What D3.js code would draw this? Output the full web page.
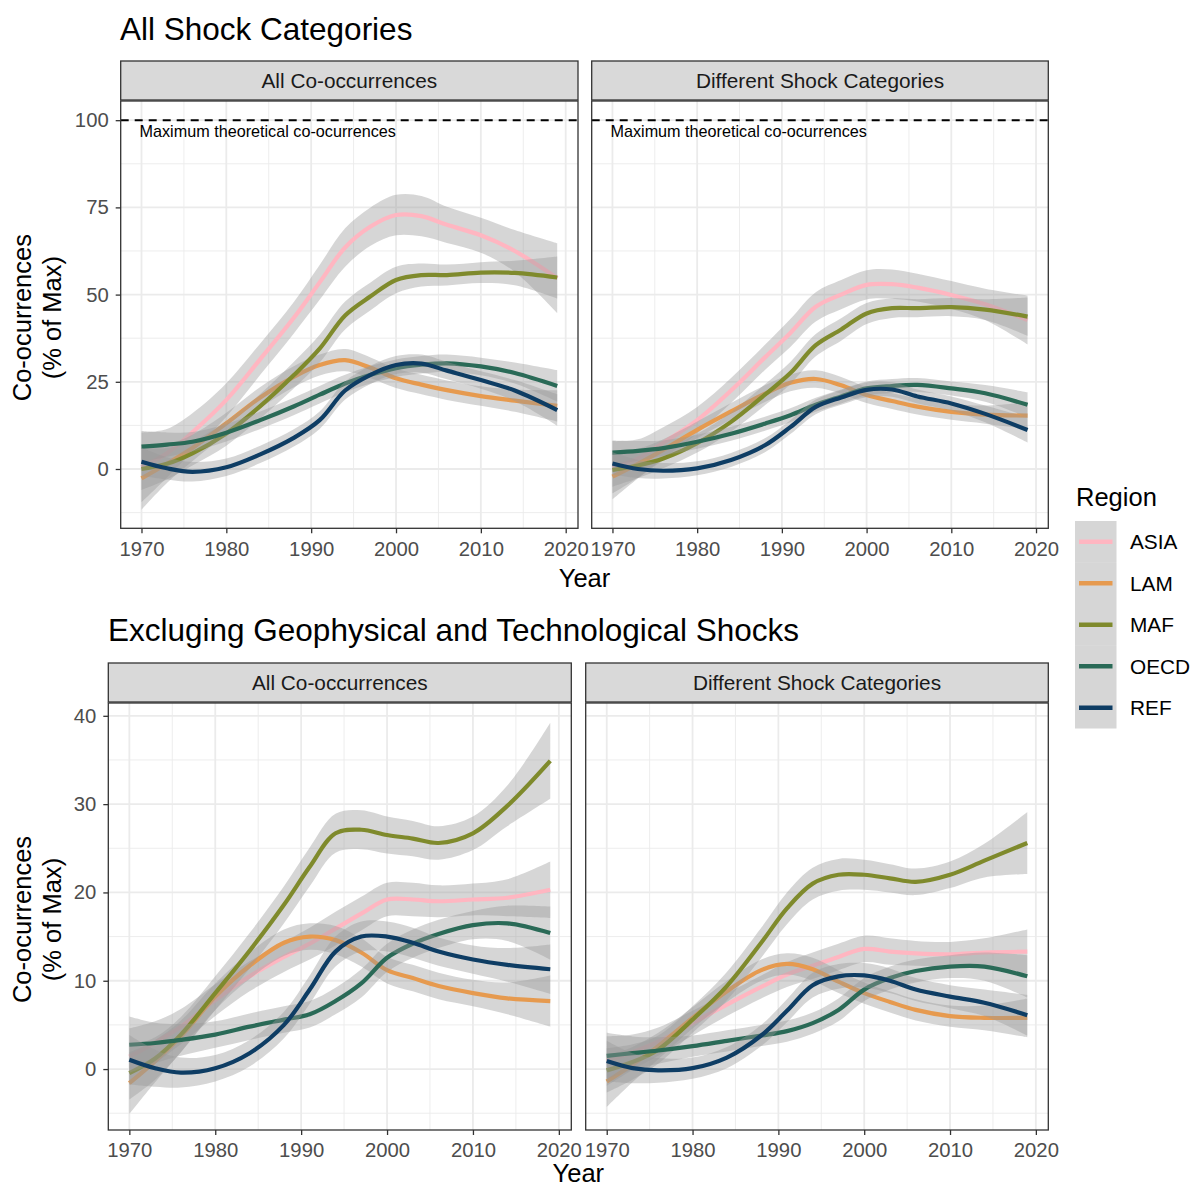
<!DOCTYPE html>
<html>
<head>
<meta charset="utf-8">
<script src="https://cdn.jsdelivr.net/npm/d3@7"></script>
<style>
  body { margin: 0; background: #fff; overflow: hidden; }
  svg { display: block; font-family: "Liberation Sans", Arial, sans-serif; }
</style>
</head>
<body>
<svg id="chart" width="1193" height="1189"></svg>
<script>
// smoothed fits
const years = [1970, 1973, 1976, 1980, 1984, 1988, 1991, 1994, 1997, 2000, 2003, 2006, 2010, 2014, 2019];
const regions = ['ASIA', 'LAM', 'MAF', 'OECD', 'REF'];
const regionColors = ['#FFB6C1', '#E69A4F', '#7F8A2C', '#2A6A57', '#0E3D64'];

const allAll = {
    ASIA: [0.5, 4.5, 10.5, 19.8, 31.5, 43.5, 53.5, 63.5, 69.5, 72.8, 72.5, 70, 67, 62.5, 54.7],
    LAM: [-2.7, 1.5, 6, 13.1, 20.5, 26.5, 29.8, 31.2, 29, 26, 24.2, 22.6, 20.9, 19.6, 18.1],
    MAF: [0, 1.5, 4.5, 10.2, 18, 27, 34.5, 44, 49.5, 54.2, 55.6, 55.6, 56.3, 56.2, 54.9],
    OECD: [6.4, 7, 7.8, 10.4, 14, 18, 21.3, 24.5, 27, 28.9, 29.9, 30.3, 29.4, 27.5, 23.8],
    REF: [2.1, 0.2, -0.8, 0.5, 4.2, 9, 14, 22.5, 27, 29.8, 30.2, 28.2, 25.5, 22.5, 16.9]
};
const allAllSe = {
    ASIA: [10, 7, 5.5, 4.8, 4.5, 4.5, 5, 5.5, 5.5, 5.8, 5.8, 5.2, 5, 6, 10],
    LAM: [9, 5.5, 3.8, 3, 3, 3, 3, 3.2, 3, 2.8, 2.8, 2.8, 2.8, 3.2, 4.5],
    MAF: [6, 4.5, 3.5, 3.5, 3.5, 3.8, 4, 4, 4, 3.8, 3.3, 3, 3, 3.5, 6],
    OECD: [4.5, 3.5, 2.8, 2.5, 2.5, 2.5, 2.5, 2.5, 2.5, 2.5, 2.5, 2.5, 2.5, 3, 4.5],
    REF: [4, 3.2, 2.8, 2.5, 2.5, 2.5, 2.5, 2.6, 2.6, 2.6, 2.6, 2.5, 2.5, 3, 4.5]
};

const allDiff = {
    ASIA: [0.5, 3, 7.5, 14, 22.5, 32, 39, 46.5, 50, 52.8, 53, 52, 49.9, 47.2, 42.7],
    LAM: [-2.2, 1.5, 5.5, 11.2, 16.5, 21.6, 24.7, 25.8, 24, 21.2, 19.5, 17.9, 16.4, 15.6, 15.3],
    MAF: [-0.3, 1, 3, 7.4, 13.5, 21.3, 27.5, 35.5, 40, 44.6, 46.1, 46.1, 46.4, 45.7, 43.7],
    OECD: [4.7, 5.2, 6, 7.8, 10.1, 13, 15.4, 18.4, 20.8, 23.1, 23.8, 24.1, 23.1, 21.7, 18.4],
    REF: [1.6, 0, -0.5, 0.2, 2.6, 6.8, 12, 17.8, 20.5, 22.7, 22.8, 20.8, 18.8, 15.8, 11.2]
};
const allDiffSe = {
    ASIA: [7.5, 5.5, 4.5, 3.8, 3.6, 3.6, 4, 4.2, 4.2, 4.2, 4.2, 4, 4, 4.5, 7],
    LAM: [6.5, 4.2, 3, 2.4, 2.4, 2.4, 2.4, 2.5, 2.4, 2.3, 2.3, 2.3, 2.3, 2.6, 3.8],
    MAF: [4.8, 3.6, 2.8, 2.7, 2.8, 3, 3.2, 3.2, 3.2, 3, 2.8, 2.6, 2.6, 3, 5.5],
    OECD: [3.5, 2.8, 2.2, 2, 2, 2, 2, 2, 2, 2, 2, 2, 2, 2.4, 3.6],
    REF: [3.2, 2.6, 2.2, 2, 2, 2, 2, 2.1, 2.1, 2.1, 2.1, 2, 2, 2.4, 3.6]
};

const exclAll = {
    ASIA: [1.4, 3, 4.8, 7.8, 10.5, 12.7, 14.2, 15.9, 17.6, 19.2, 19.2, 19, 19.2, 19.4, 20.3],
    LAM: [-1.6, 0.9, 3.7, 8.2, 11.7, 14.3, 15, 14.6, 13.2, 11.2, 10.3, 9.4, 8.6, 8, 7.7],
    MAF: [-0.45, 1.2, 3.9, 8.6, 13.4, 18.6, 22.9, 26.7, 27.1, 26.5, 26.1, 25.6, 26.7, 29.8, 34.9],
    OECD: [2.75, 2.95, 3.3, 3.9, 4.8, 5.6, 6.2, 7.7, 9.7, 12.6, 14.2, 15.3, 16.3, 16.5, 15.4],
    REF: [1.06, 0.1, -0.4, 0.1, 1.8, 5, 9, 13.3, 15, 15, 14.3, 13.3, 12.4, 11.8, 11.3]
};
const exclAllSe = {
    ASIA: [3.2, 2.4, 2, 1.8, 1.7, 1.7, 1.8, 1.9, 1.9, 1.9, 1.9, 1.8, 1.8, 2.1, 3.2],
    LAM: [3.5, 2.4, 1.8, 1.5, 1.5, 1.5, 1.5, 1.6, 1.6, 1.5, 1.5, 1.5, 1.5, 1.8, 2.9],
    MAF: [3, 2.4, 2, 1.9, 2, 2.1, 2.2, 2.2, 2.2, 2.1, 2, 1.9, 1.9, 2.3, 4.3],
    OECD: [3.2, 2.3, 1.8, 1.5, 1.5, 1.5, 1.5, 1.5, 1.6, 1.6, 1.6, 1.6, 1.6, 2, 3],
    REF: [2.8, 2.1, 1.7, 1.5, 1.5, 1.5, 1.6, 1.7, 1.7, 1.7, 1.7, 1.6, 1.6, 1.9, 2.8]
};

const exclDiff = {
    ASIA: [0.9, 1.9, 3.1, 5.2, 7.3, 9.3, 10.7, 11.7, 12.7, 13.6, 13.3, 13.1, 13, 13.2, 13.3],
    LAM: [-1.4, 0.5, 2.6, 5.8, 8.8, 11.2, 11.9, 11.3, 9.9, 8.6, 7.6, 6.7, 6, 5.8, 5.8],
    MAF: [-0.15, 0.8, 2.2, 5.6, 9.4, 14.3, 18.2, 21, 22, 22, 21.6, 21.2, 22, 23.6, 25.6],
    OECD: [1.5, 1.8, 2.1, 2.6, 3.2, 3.8, 4.3, 5.2, 6.7, 9, 10.3, 11.1, 11.6, 11.6, 10.5],
    REF: [0.9, 0.1, -0.15, 0.1, 1.3, 3.8, 6.6, 9.5, 10.5, 10.6, 10, 9, 8.2, 7.5, 6.1]
};
const exclDiffSe = {
    ASIA: [2.8, 2, 1.6, 1.4, 1.3, 1.3, 1.4, 1.5, 1.5, 1.5, 1.5, 1.4, 1.4, 1.6, 2.5],
    LAM: [2.9, 2, 1.5, 1.2, 1.2, 1.2, 1.2, 1.3, 1.3, 1.2, 1.2, 1.2, 1.2, 1.4, 2.2],
    MAF: [2.5, 2, 1.6, 1.5, 1.6, 1.7, 1.8, 1.8, 1.8, 1.7, 1.6, 1.5, 1.5, 1.9, 3.5],
    OECD: [2.6, 1.9, 1.5, 1.2, 1.2, 1.2, 1.2, 1.2, 1.3, 1.3, 1.3, 1.3, 1.3, 1.6, 2.4],
    REF: [2.3, 1.7, 1.4, 1.2, 1.2, 1.2, 1.3, 1.4, 1.4, 1.4, 1.4, 1.3, 1.3, 1.5, 2.3]
};

const xTicks = [1970, 1980, 1990, 2000, 2010, 2020];
const xMinor = [1975, 1985, 1995, 2005, 2015];
const topTicks = [0, 25, 50, 75, 100];
const topMinor = [-12.5, 12.5, 37.5, 62.5, 87.5];
const bottomTicks = [0, 10, 20, 30, 40];
const bottomMinor = [-5, 5, 15, 25, 35];
const maxLine = 100;
const maxLabel = 'Maximum theoretical co-ocurrences';

const svg = d3.select('#chart');
const dark = '#333333';
const tickGrey = '#4D4D4D';
const fontFamily = '"Liberation Sans", Arial, sans-serif';

const color = d3.scaleOrdinal().domain(regions).range(regionColors);

function drawPanel(cfg) {
    const x = d3.scaleLinear().domain([1967.55, 2021.45]).range([cfg.left, cfg.right]);
    const y = d3.scaleLinear().domain(cfg.yDomain).range([cfg.bottom, cfg.top]);
    const g = svg.append('g');

    // grid
    g.selectAll('line.minor-y').data(cfg.yMinor).join('line')
        .attr('x1', cfg.left).attr('x2', cfg.right)
        .attr('y1', d => y(d)).attr('y2', d => y(d))
        .attr('stroke', '#EBEBEB').attr('stroke-width', 0.9);
    g.selectAll('line.minor-x').data(xMinor).join('line')
        .attr('y1', cfg.top).attr('y2', cfg.bottom)
        .attr('x1', d => x(d)).attr('x2', d => x(d))
        .attr('stroke', '#EBEBEB').attr('stroke-width', 0.9);
    g.selectAll('line.major-y').data(cfg.yTicks).join('line')
        .attr('x1', cfg.left).attr('x2', cfg.right)
        .attr('y1', d => y(d)).attr('y2', d => y(d))
        .attr('stroke', '#EBEBEB').attr('stroke-width', 1.8);
    g.selectAll('line.major-x').data(xTicks).join('line')
        .attr('y1', cfg.top).attr('y2', cfg.bottom)
        .attr('x1', d => x(d)).attr('x2', d => x(d))
        .attr('stroke', '#EBEBEB').attr('stroke-width', 1.8);

    // max line + label
    if (cfg.showMax) {
        g.append('line')
            .attr('x1', cfg.left).attr('x2', cfg.right)
            .attr('y1', y(maxLine)).attr('y2', y(maxLine))
            .attr('stroke', '#000').attr('stroke-width', 2)
            .attr('stroke-dasharray', '8,6');
        g.append('text')
            .attr('x', x(1970) - 2).attr('y', y(96.8))
            .attr('dy', '0.35em')
            .attr('font-size', 16.2).attr('fill', '#000')
            .text(maxLabel);
    }

    const area = d3.area()
        .x((d, i) => x(years[i]))
        .y0(d => y(d[0] - d[1]))
        .y1(d => y(d[0] + d[1]))
        .curve(d3.curveCatmullRom.alpha(0.5));
    const line = d3.line()
        .x((d, i) => x(years[i]))
        .y(d => y(d))
        .curve(d3.curveCatmullRom.alpha(0.5));

    regions.forEach(r => {
        const vals = cfg.data[r];
        const se = cfg.se[r];
        g.append('path')
            .datum(vals.map((v, i) => [v, se[i]]))
            .attr('d', area)
            .attr('fill', '#999999')
            .attr('fill-opacity', 0.4);
        g.append('path')
            .datum(vals)
            .attr('d', line)
            .attr('fill', 'none')
            .attr('stroke', color(r))
            .attr('stroke-width', 4.2);
    });

    // border
    g.append('rect')
        .attr('x', cfg.left).attr('y', cfg.top)
        .attr('width', cfg.right - cfg.left).attr('height', cfg.bottom - cfg.top)
        .attr('fill', 'none').attr('stroke', dark).attr('stroke-width', 1.3);

    // strip
    g.append('rect')
        .attr('x', cfg.left).attr('y', cfg.top - 40)
        .attr('width', cfg.right - cfg.left).attr('height', 39)
        .attr('fill', '#D9D9D9').attr('stroke', dark).attr('stroke-width', 1.3);
    g.append('text')
        .attr('x', (cfg.left + cfg.right) / 2).attr('y', cfg.top - 20)
        .attr('dy', '0.35em').attr('text-anchor', 'middle')
        .attr('font-size', 20.8).attr('fill', '#1A1A1A')
        .text(cfg.strip);

    // x axis
    const xAxis = g.append('g')
        .attr('transform', `translate(0,${cfg.bottom})`)
        .call(d3.axisBottom(x).tickValues(xTicks).tickFormat(d3.format('d')).tickSize(5).tickPadding(8));
    xAxis.select('.domain').remove();
    xAxis.selectAll('line').attr('stroke', dark).attr('stroke-width', 1.3);
    xAxis.selectAll('text').attr('font-size', 20.3).attr('fill', tickGrey)
        .attr('font-family', fontFamily);

    if (cfg.yAxis) {
        const yAxis = g.append('g')
            .attr('transform', `translate(${cfg.left},0)`)
            .call(d3.axisLeft(y).tickValues(cfg.yTicks).tickSize(5).tickPadding(7));
        yAxis.select('.domain').remove();
        yAxis.selectAll('line').attr('stroke', dark).attr('stroke-width', 1.3);
        yAxis.selectAll('text').attr('font-size', 20.3).attr('fill', tickGrey)
            .attr('font-family', fontFamily);
    }
}

function drawRow(row) {
    svg.append('text')
        .attr('x', row.titleX).attr('y', row.titleY)
        .attr('font-size', 31.5).attr('fill', '#000')
        .text(row.title);

    row.panels.forEach((p, i) => drawPanel({
        left: p[0], right: p[1], top: row.top, bottom: row.bottom,
        yDomain: row.yDomain, yTicks: row.yTicks, yMinor: row.yMinor,
        data: row.data[i], se: row.se[i], strip: row.strips[i],
        showMax: row.showMax, yAxis: i === 0
    }));

    svg.append('text')
        .attr('x', (row.panels[0][0] + row.panels[1][1]) / 2).attr('y', row.yearY)
        .attr('dy', '0.35em').attr('text-anchor', 'middle')
        .attr('font-size', 25.5).attr('fill', '#000')
        .text('Year');

    const cy = (row.top + row.bottom) / 2 + 3;
    const yt = svg.append('text')
        .attr('transform', `translate(22,${cy}) rotate(-90)`)
        .attr('text-anchor', 'middle')
        .attr('font-size', 25.5).attr('fill', '#000');
    yt.append('tspan').attr('x', 0).attr('dy', '0.35em').text('Co-ocurrences');
    yt.append('tspan').attr('x', 0).attr('dy', 30).text('(% of Max)');
}

const strips = ['All Co-occurrences', 'Different Shock Categories'];

drawRow({
    title: 'All Shock Categories', titleX: 120, titleY: 40,
    top: 101, bottom: 528.3, yearY: 578,
    panels: [[120.7, 578], [591.7, 1048.3]],
    yDomain: [-17, 105.5], yTicks: topTicks, yMinor: topMinor,
    data: [allAll, allDiff], se: [allAllSe, allDiffSe],
    strips: strips, showMax: true
});

drawRow({
    title: 'Excluging Geophysical and Technological Shocks', titleX: 108, titleY: 641,
    top: 703, bottom: 1130, yearY: 1173,
    panels: [[108.3, 571.3], [585.7, 1048.3]],
    yDomain: [-6.9, 41.45], yTicks: bottomTicks, yMinor: bottomMinor,
    data: [exclAll, exclDiff], se: [exclAllSe, exclDiffSe],
    strips: strips, showMax: false
});

// legend
const legend = svg.append('g').attr('transform', 'translate(1075,0)');
legend.append('text')
    .attr('x', 1).attr('y', 497).attr('dy', '0.35em')
    .attr('font-size', 25.5).attr('fill', '#000')
    .text('Region');
const keySize = 41.5;
legend.selectAll('rect.key').data(regions).join('rect')
    .attr('x', 0).attr('y', (d, i) => 521 + i * keySize)
    .attr('width', keySize).attr('height', keySize)
    .attr('fill', '#999999').attr('fill-opacity', 0.4);
legend.selectAll('line.key').data(regions).join('line')
    .attr('x1', 4).attr('x2', keySize - 4)
    .attr('y1', (d, i) => 521 + i * keySize + keySize / 2)
    .attr('y2', (d, i) => 521 + i * keySize + keySize / 2)
    .attr('stroke', d => color(d)).attr('stroke-width', 4.5);
legend.selectAll('text.key').data(regions).join('text')
    .attr('x', 55).attr('y', (d, i) => 521 + i * keySize + keySize / 2)
    .attr('dy', '0.35em')
    .attr('font-size', 20.8).attr('fill', '#000')
    .text(d => d);
</script>
</body>
</html>
